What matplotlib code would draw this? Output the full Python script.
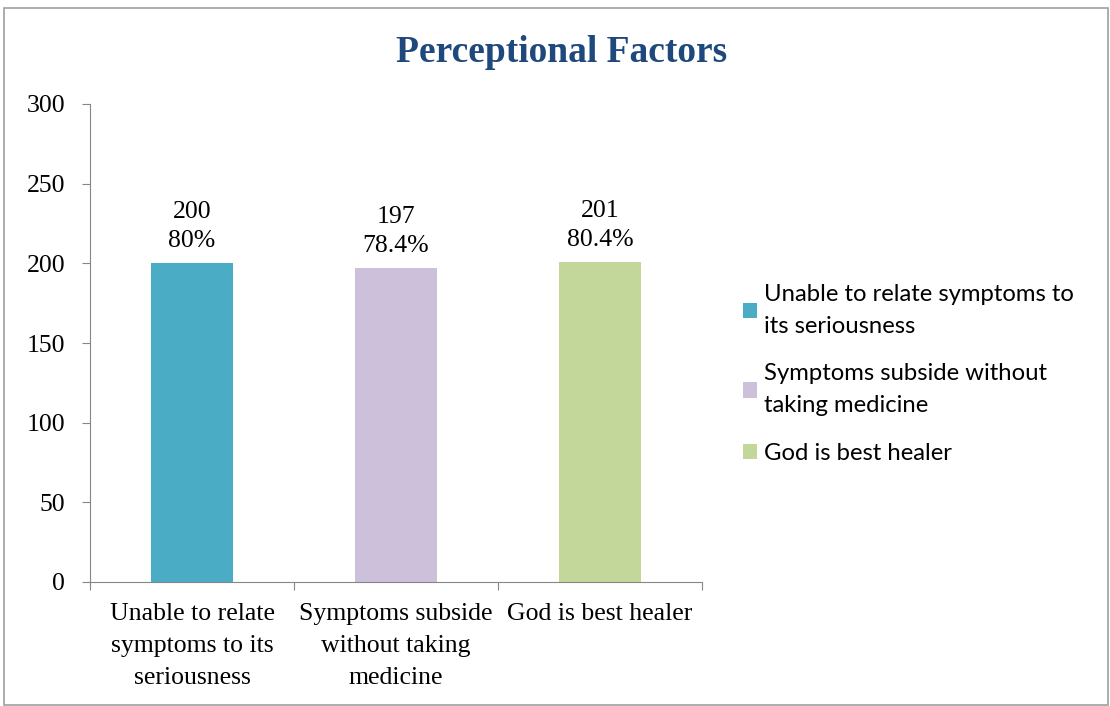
import matplotlib
matplotlib.use("Agg")
import matplotlib.pyplot as plt
from matplotlib.patches import Rectangle, Patch

categories = ["Unable to relate\nsymptoms to its\nseriousness",
              "Symptoms subside\nwithout taking\nmedicine",
              "God is best healer"]
legend_labels = ["Unable to relate symptoms to\nits seriousness",
                 "Symptoms subside without\ntaking medicine",
                 "God is best healer"]
counts = [200, 197, 201]
percents = ["80%", "78.4%", "80.4%"]
colors = ["#4BACC6", "#CCC0DA", "#C4D79B"]
y_ticks = [0, 50, 100, 150, 200, 250, 300]

fig = plt.figure(figsize=(11.1, 7.06), dpi=100)
ax = fig.add_axes([90 / 1110, 124 / 706, 612 / 1110, 478 / 706])

x = range(len(counts))
bars = ax.bar(x, counts, width=0.4, color=colors)

for xi, c, p in zip(x, counts, percents):
    ax.annotate(f"{c}\n{p}", (xi, c), xytext=(0, 8), textcoords="offset points",
                ha="center", va="bottom", fontsize=18.5, family="Liberation Serif",
                linespacing=1.4)

ax.set_xlim(-0.5, 2.5)
ax.set_ylim(0, 300)
ax.set_yticks(y_ticks)
ax.set_yticklabels([str(v) for v in y_ticks], family="Liberation Serif", fontsize=18.5)

# category labels between tick marks at boundaries
ax.set_xticks([-0.5, 0.5, 1.5, 2.5])
ax.set_xticklabels([])
ax.set_xticks(list(x), minor=True)
ax.set_xticklabels(categories, minor=True, family="Liberation Serif", fontsize=18.5,
                   linespacing=1.6)
ax.tick_params(axis="x", which="minor", length=0, pad=15)
ax.tick_params(axis="x", which="major", length=6, color="#868686")
ax.tick_params(axis="y", length=6, color="#868686", pad=12)

for side in ["top", "right"]:
    ax.spines[side].set_visible(False)
for side in ["left", "bottom"]:
    ax.spines[side].set_color("#868686")

fig.text(562 / 1110, 1 - 52 / 706, "Perceptional Factors", ha="center", va="center",
         fontsize=27, fontweight="bold", color="#1F497D", family="Liberation Serif")

handles = [Patch(facecolor=c, label=l) for c, l in zip(colors, legend_labels)]
leg = fig.legend(handles=handles, loc="upper left",
                 bbox_to_anchor=(743 / 1110, 1 - 284 / 706),
                 frameon=False, prop={"family": "Lato", "size": 17.2}, handlelength=0.6,
                 handleheight=0.6, handletextpad=0.3, labelspacing=1.1, borderaxespad=0,
                 borderpad=0)
for t in leg.get_texts():
    t.set_linespacing(1.65)

fig.patches.append(Rectangle((4 / 1110, 1 / 706), 1104 / 1110, 697 / 706,
                             transform=fig.transFigure, fill=False,
                             edgecolor="#A0A0A0", linewidth=1.2))

fig.savefig("out.png", dpi=100)
